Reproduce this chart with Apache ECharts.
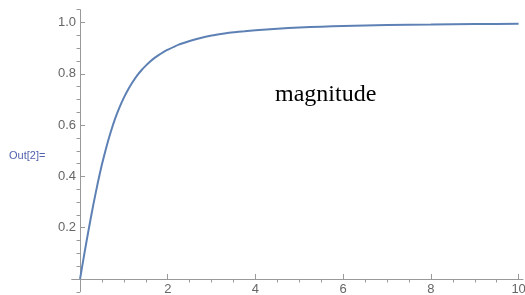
<!DOCTYPE html>
<html>
<head>
<meta charset="utf-8">
<script src="https://cdn.jsdelivr.net/npm/echarts@6/dist/echarts.min.js"></script>
<style>
html,body{margin:0;padding:0;background:#fff;}
#c{width:525px;height:295px;}
</style>
</head>
<body>
<div id="c"></div>
<script>
// Data
const xValues = [0, 0.1, 0.2, 0.3, 0.4, 0.5, 0.6, 0.7, 0.8, 0.9, 1.0, 1.1, 1.2, 1.3, 1.4, 1.5, 1.6, 1.7, 1.8, 1.9, 2.0, 2.25, 2.5, 2.75, 3, 3.25, 3.5, 3.75, 4, 4.5, 5, 5.5, 6, 7, 8, 9, 10];
const magnitude = [0, 0.10, 0.196, 0.287, 0.371, 0.447, 0.514, 0.573, 0.625, 0.669, 0.707, 0.740, 0.768, 0.793, 0.814, 0.832, 0.848, 0.862, 0.874, 0.885, 0.894, 0.914, 0.928, 0.940, 0.949, 0.956, 0.962, 0.966, 0.970, 0.976, 0.981, 0.984, 0.986, 0.990, 0.992, 0.994, 0.995];
const xMajorTicks = [2, 4, 6, 8, 10];
const xMinorTicks = [0.5, 1, 1.5, 2.5, 3, 3.5, 4.5, 5, 5.5, 6.5, 7, 7.5, 8.5, 9, 9.5];
const yMajorTicks = [0.2, 0.4, 0.6, 0.8, 1.0];
const yMinorTicks = [-0.05, 0.05, 0.1, 0.15, 0.25, 0.3, 0.35, 0.45, 0.5, 0.55, 0.65, 0.7, 0.75, 0.85, 0.9, 0.95, 1.05];
const outLabel = 'Out[2]=';
const plotLabel = 'magnitude';

const axisColor = '#999999';
const labelColor = '#666666';
const font = 'Liberation Sans, Arial, sans-serif';

const chart = echarts.init(document.getElementById('c'), null, {renderer: 'canvas'});
chart.setOption({
  animation: false,
  backgroundColor: '#ffffff',
  grid: {left: 71.7, right: 2, top: 9.7, bottom: 3.2, containLabel: false, outerBoundsMode: 'none'},
  xAxis: [
    {
      type: 'value', min: -0.19, max: 10.1,
      axisLine: {show: true, onZero: true, onZeroAxisIndex: 0, lineStyle: {color: axisColor, width: 1}},
      axisTick: {show: true, inside: true, length: 5, customValues: xMajorTicks, lineStyle: {color: axisColor}},
      axisLabel: {show: true, customValues: xMajorTicks, margin: -7.5, color: labelColor, fontSize: 13, lineHeight: 11,
        fontFamily: font, hideOverlap: false, formatter: v => String(v)},
      splitLine: {show: false}
    },
    {
      type: 'value', min: -0.19, max: 10.1,
      axisLine: {show: false, onZero: true, onZeroAxisIndex: 0},
      axisTick: {show: true, inside: true, length: 3.5, customValues: xMinorTicks, lineStyle: {color: axisColor}},
      axisLabel: {show: false},
      splitLine: {show: false}
    }
  ],
  yAxis: [
    {
      type: 'value', min: -0.05, max: 1.05,
      axisLine: {show: true, onZero: true, onZeroAxisIndex: 0, lineStyle: {color: axisColor, width: 1}},
      axisTick: {show: true, inside: true, length: 5, customValues: yMajorTicks, lineStyle: {color: axisColor}},
      axisLabel: {show: true, customValues: yMajorTicks, margin: -4.3, color: labelColor, fontSize: 13, fontFamily: font,
        hideOverlap: false, formatter: v => v.toFixed(1)},
      splitLine: {show: false}
    },
    {
      type: 'value', min: -0.05, max: 1.05,
      axisLine: {show: false, onZero: true, onZeroAxisIndex: 0},
      axisTick: {show: true, inside: true, length: 3.5, customValues: yMinorTicks, lineStyle: {color: axisColor}},
      axisLabel: {show: false},
      splitLine: {show: false}
    }
  ],
  graphic: [
    {type: 'text', left: 9, top: 150, style: {text: outLabel, fill: '#5562b0', font: '11px ' + font}},
    {type: 'text', left: 275, top: 83, style: {text: plotLabel, fill: '#000000', font: '24px "Liberation Serif", "Times New Roman", serif'}}
  ],
  series: [{
    type: 'line',
    xAxisIndex: 0, yAxisIndex: 0,
    data: xValues.map((x, i) => [x, magnitude[i]]),
    smooth: 0.2,
    showSymbol: false,
    lineStyle: {color: '#5E81B5', width: 2},
    clip: false
  }]
});
</script>
</body>
</html>
